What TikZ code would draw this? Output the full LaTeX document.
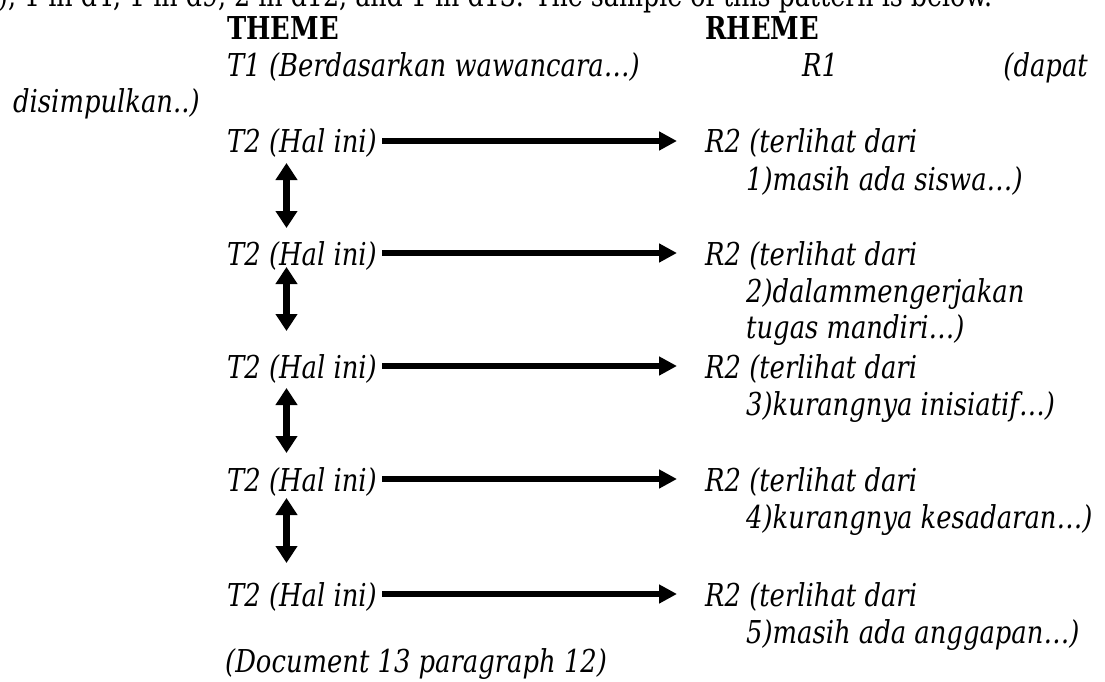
\documentclass[tikz,border=0pt]{standalone}
\usepackage{fontspec}
\setmainfont{DejaVu Serif}[FakeStretch=0.82]
\usetikzlibrary{arrows.meta,calc}
\begin{document}
\begin{tikzpicture}[x=1pt,y=-1pt,
  body/.style={anchor=base west, inner sep=0pt, font=\fontsize{31.5}{37}\selectfont},
  txt/.style={body, font=\fontsize{31.5}{37}\selectfont\itshape},
  hd/.style={body, font=\fontsize{31.5}{37}\selectfont\bfseries},
  harrow/.style={line width=6pt, -{Triangle[length=18pt 0 0,width=18pt 0 0]}},
  varrow/.style={line width=7.5pt, {Triangle[length=17pt 0 0,width=21pt 0 0]}-{Triangle[length=17pt 0 0,width=21pt 0 0]}}
]
\useasboundingbox (0,0) rectangle (1105,682);
\fill[white] (0,0) rectangle (1105,682);

% cut-off line of the preceding paragraph
\node[body] (intro) at (-2,7) {\resizebox{994pt}{\height}{), 1 in d4, 1 in d9, 2 in d12, and 1 in d13. The sample of this pattern is below.}};

% headers
\node[hd] (theme) at (227,40) {THEME};
\node[hd] (rheme) at (705,40) {RHEME};

% first pair
\node[txt] (t1) at (227,77) {T1 (Berdasarkan wawancara…)};
\node[txt] (r1) at (802,77) {R1};
\node[txt, anchor=base east] (r1b) at (1088,77) {(dapat};
\node[txt] (r1c) at (13,113) {disimpulkan..)};

% theme column
\node[txt] (ta) at (227,153) {T2 (Hal ini)};
\node[txt] (tb) at (227,265) {T2 (Hal ini)};
\node[txt] (tc) at (227,378) {T2 (Hal ini)};
\node[txt] (td) at (227,491) {T2 (Hal ini)};
\node[txt] (te) at (227,606) {T2 (Hal ini)};

% rheme column
\node[txt] (ra) at (705,153) {R2 (terlihat dari};
\node[txt] (ra2) at (746,190) {1)masih ada siswa…)};
\node[txt] (rb) at (705,265) {R2 (terlihat dari};
\node[txt] (rb2) at (746,302) {2)dalammengerjakan};
\node[txt] (rb3) at (746,338) {tugas mandiri…)};
\node[txt] (rc) at (705,378) {R2 (terlihat dari};
\node[txt] (rc2) at (746,415) {3)kurangnya inisiatif…)};
\node[txt] (rd) at (705,491) {R2 (terlihat dari};
\node[txt] (rd2) at (746,528) {4)kurangnya kesadaran…)};
\node[txt] (re) at (705,606) {R2 (terlihat dari};
\node[txt] (re2) at (746,643) {5)masih ada anggapan…)};

\node[txt] (src) at (225,672) {(Document 13 paragraph 12)};

% horizontal arrows
\foreach \t/\r in {ta/ra,tb/rb,tc/rc,td/rd,te/re}{
  \draw[harrow] ($(\t.base west)+(155,-12)$) -- ($(\r.base west)+(-28,-12)$);
}

% vertical double arrows
\draw[varrow] ($(ta.base west)+(59.5,10)$) -- ($(tb.base west)+(59.5,-37)$);
\draw[varrow] ($(tb.base west)+(59.5,2)$) -- ($(tc.base west)+(59.5,-47)$);
\draw[varrow] ($(tc.base west)+(59.5,10)$) -- ($(td.base west)+(59.5,-38)$);
\draw[varrow] ($(td.base west)+(59.5,7)$) -- ($(te.base west)+(59.5,-43)$);
\end{tikzpicture}
\end{document}
